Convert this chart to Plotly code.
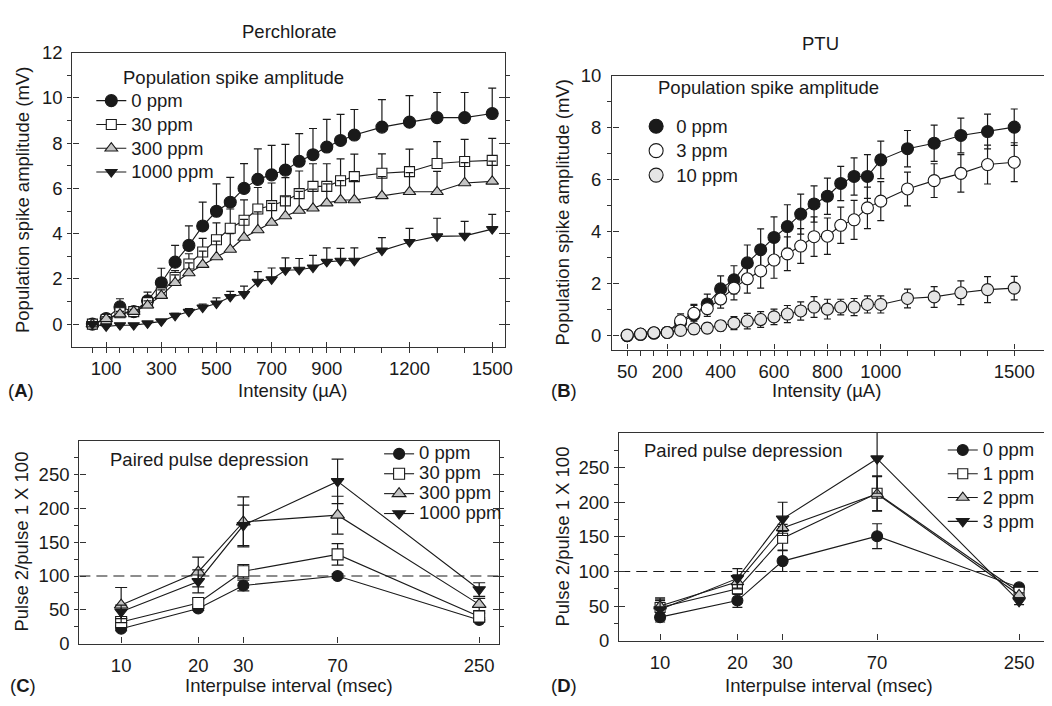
import plotly.graph_objects as go

# ---------------- data ----------------
intensity = [50, 100, 150, 200, 250, 300, 350, 400, 450, 500, 550, 600, 650, 700,
             750, 800, 850, 900, 950, 1000, 1100, 1200, 1300, 1400, 1500]

# Panel A: Perchlorate, population spike amplitude (mV)
perc_0 = [0.0, 0.25, 0.76, 0.55, 1.03, 1.83, 2.74, 3.48, 4.34, 4.99, 5.39, 6.00, 6.40,
          6.60, 6.81, 7.20, 7.49, 7.83, 8.12, 8.36, 8.71, 8.93, 9.13, 9.13, 9.31]
perc_0_err = [0.05, 0.10, 0.36, 0.20, 0.38, 0.64, 0.74, 0.86, 1.05, 1.21, 1.10, 1.10, 1.35,
              1.30, 1.14, 1.22, 1.16, 1.22, 1.15, 1.13, 1.22, 1.17, 1.11, 1.11, 1.12]
perc_30 = [0.0, 0.20, 0.50, 0.55, 0.95, 1.38, 2.06, 2.66, 3.19, 3.73, 4.24, 4.59, 5.09,
           5.24, 5.45, 5.77, 6.09, 6.09, 6.34, 6.52, 6.67, 6.74, 7.10, 7.19, 7.24]
perc_30_err = [0.05, 0.08, 0.10, 0.10, 0.15, 0.20, 0.30, 0.45, 0.60, 0.75, 0.85, 0.90, 0.95,
               1.00, 1.03, 1.00, 1.00, 1.00, 0.97, 1.00, 0.86, 1.00, 0.97, 0.98, 0.97]
perc_300 = [0.0, 0.23, 0.44, 0.55, 0.83, 1.26, 1.83, 2.26, 2.63, 2.97, 3.30, 3.83, 4.16,
            4.49, 4.78, 5.02, 5.12, 5.35, 5.49, 5.49, 5.67, 5.85, 5.85, 6.24, 6.31]
perc_300_err = [0.05, 0.10, 0.12, 0.10, 0.20, 0.25, 0.35, 0.45, 0.60, 0.70, 0.70, 0.80, 0.80,
                0.85, 0.85, 0.85, 0.85, 0.85, 0.85, 0.85, 0.85, 0.85, 0.90, 0.90, 0.90]
perc_1000 = [0.0, -0.10, -0.05, -0.05, 0.03, 0.12, 0.37, 0.54, 0.73, 0.91, 1.20, 1.33, 1.87,
             1.98, 2.38, 2.40, 2.50, 2.75, 2.80, 2.80, 3.25, 3.63, 3.88, 3.90, 4.20]
perc_1000_err = [0.0, 0.0, 0.0, 0.0, 0.05, 0.05, 0.10, 0.15, 0.15, 0.25, 0.25, 0.35, 0.45,
                 0.50, 0.55, 0.50, 0.54, 0.62, 0.55, 0.57, 0.57, 0.60, 0.80, 0.64, 0.65]

# Panel B: PTU, population spike amplitude (mV)
ptu_0 = [0.0, 0.05, 0.10, 0.12, 0.50, 0.80, 1.22, 1.80, 2.15, 2.80, 3.31, 3.78, 4.20,
         4.68, 5.07, 5.37, 5.86, 6.13, 6.13, 6.77, 7.20, 7.41, 7.71, 7.86, 8.03]
ptu_0_err = [0.0, 0.0, 0.0, 0.05, 0.20, 0.40, 0.38, 0.50, 0.54, 0.69, 0.80, 0.79, 0.84,
             0.77, 0.70, 0.70, 0.66, 0.72, 0.84, 0.72, 0.70, 0.70, 0.67, 0.67, 0.70]
ptu_3 = [0.0, 0.05, 0.10, 0.12, 0.57, 0.86, 1.04, 1.41, 1.83, 2.19, 2.49, 2.91, 3.15,
         3.45, 3.81, 3.83, 4.25, 4.46, 4.92, 5.18, 5.65, 5.97, 6.25, 6.59, 6.68]
ptu_3_err = [0.0, 0.0, 0.0, 0.05, 0.27, 0.30, 0.30, 0.35, 0.45, 0.55, 0.66, 0.70, 0.65,
             0.67, 0.76, 0.70, 0.70, 0.75, 0.80, 0.75, 0.65, 0.65, 0.72, 0.75, 0.75]
ptu_10 = [0.02, 0.06, 0.11, 0.12, 0.20, 0.26, 0.29, 0.38, 0.48, 0.56, 0.62, 0.72, 0.83,
          0.95, 1.10, 1.02, 1.10, 1.10, 1.20, 1.20, 1.43, 1.49, 1.65, 1.77, 1.83]
ptu_10_err = [0.0, 0.0, 0.0, 0.0, 0.05, 0.20, 0.20, 0.20, 0.25, 0.30, 0.30, 0.30, 0.33,
              0.35, 0.40, 0.38, 0.30, 0.33, 0.33, 0.33, 0.36, 0.40, 0.46, 0.50, 0.45]

# Panels C/D: paired pulse depression (pulse 2 / pulse 1 x 100)
interval = [10, 20, 30, 70, 250]
ppd_perc_0 = [22, 52, 86, 100, 35]
ppd_perc_0_err = [3, 3, 8, 3, 3]
ppd_perc_30 = [32, 60, 107, 132, 40]
ppd_perc_30_err = [5, 6, 10, 16, 5]
ppd_perc_300 = [57, 106, 180, 190, 58]
ppd_perc_300_err = [26, 22, 37, 28, 9]
ppd_perc_1000 = [47, 92, 175, 240, 80]
ppd_perc_1000_err = [10, 17, 30, 33, 10]

ppd_ptu_0 = [34, 58, 115, 151, 77]
ppd_ptu_0_err = [7, 10, 15, 18, 3]
ppd_ptu_1 = [48, 75, 148, 213, 70]
ppd_ptu_1_err = [10, 8, 17, 25, 3]
ppd_ptu_2 = [50, 85, 163, 212, 66]
ppd_ptu_2_err = [12, 10, 5, 25, 3]
ppd_ptu_3 = [45, 90, 176, 263, 57]
ppd_ptu_3_err = [15, 14, 24, 50, 5]

a_ticks = [100, 300, 500, 700, 900, 1200, 1500]
b_ticks = [50, 200, 400, 600, 800, 1000, 1500]
interval_ticks = [10, 20, 30, 70, 250]

# ---------------- figure ----------------
W, H = 1052, 706
FONT = "Liberation Sans, Arial, Helvetica, sans-serif"
FS = 18.5
INK = "#1a1a1a"
AX = "#333333"


def fx(p):
    return p / W


def fy(p):
    return 1 - p / H


def lab(s):
    return f'<span style="font-size:{FS}px">{s}</span>'


fig = go.Figure()


def add_series(x, y, err, name, symbol, fill, size, xa, ya, legend, one_sided,
               capw, showlegend=True):
    ey = dict(type="data", array=err, color=INK, thickness=1.2, width=capw)
    if one_sided:
        ey["symmetric"] = False
        ey["arrayminus"] = [0] * len(err)
    fig.add_trace(go.Scatter(
        x=x, y=y, name=lab(name), mode="lines+markers",
        line=dict(color=INK, width=1.1),
        marker=dict(symbol=symbol, size=size, color=fill,
                    line=dict(color=INK, width=1.1)),
        error_y=ey, xaxis=xa, yaxis=ya, legend=legend, showlegend=showlegend,
    ))


GREY = "#c4c4c4"
LIGHT = "#e6e6e6"

# Panel A
add_series(intensity, perc_0, perc_0_err, "0 ppm", "circle", INK, 12, "x", "y", "legend", True, 4)
add_series(intensity, perc_30, perc_30_err, "30 ppm", "square", "white", 10, "x", "y", "legend", True, 4)
add_series(intensity, perc_300, perc_300_err, "300 ppm", "triangle-up", GREY, 11, "x", "y", "legend", True, 4)
add_series(intensity, perc_1000, perc_1000_err, "1000 ppm", "triangle-down", INK, 10, "x", "y", "legend", True, 4)

# Panel B (legend shows markers only)
add_series(intensity, ptu_0, ptu_0_err, "0 ppm", "circle", INK, 12, "x2", "y2", "legend2", False, 3.5, False)
add_series(intensity, ptu_3, ptu_3_err, "3 ppm", "circle", "white", 12, "x2", "y2", "legend2", False, 3.5, False)
add_series(intensity, ptu_10, ptu_10_err, "10 ppm", "circle", LIGHT, 12, "x2", "y2", "legend2", False, 3.5, False)
for nm, fill in [("0 ppm", INK), ("3 ppm", "white"), ("10 ppm", LIGHT)]:
    fig.add_trace(go.Scatter(
        x=[None], y=[None], name=lab(nm), mode="markers",
        marker=dict(symbol="circle", size=14, color=fill, line=dict(color=INK, width=1.1)),
        xaxis="x2", yaxis="y2", legend="legend2", showlegend=True))

# Panel C
add_series(interval, ppd_perc_0, ppd_perc_0_err, "0 ppm", "circle", INK, 11, "x3", "y3", "legend3", False, 6)
add_series(interval, ppd_perc_30, ppd_perc_30_err, "30 ppm", "square", "white", 11, "x3", "y3", "legend3", False, 6)
add_series(interval, ppd_perc_300, ppd_perc_300_err, "300 ppm", "triangle-up", GREY, 12, "x3", "y3", "legend3", False, 6)
add_series(interval, ppd_perc_1000, ppd_perc_1000_err, "1000 ppm", "triangle-down", INK, 11, "x3", "y3", "legend3", False, 6)

# Panel D
add_series(interval, ppd_ptu_0, ppd_ptu_0_err, "0 ppm", "circle", INK, 11, "x4", "y4", "legend4", False, 5)
add_series(interval, ppd_ptu_1, ppd_ptu_1_err, "1 ppm", "square", "white", 10, "x4", "y4", "legend4", False, 5)
add_series(interval, ppd_ptu_2, ppd_ptu_2_err, "2 ppm", "triangle-up", GREY, 11, "x4", "y4", "legend4", False, 5)
add_series(interval, ppd_ptu_3, ppd_ptu_3_err, "3 ppm", "triangle-down", INK, 11, "x4", "y4", "legend4", False, 5)

# reference line at 100 in C and D
for xr, yr in [("x3", "y3"), ("x4", "y4")]:
    fig.add_shape(type="line", xref=f"{xr} domain", yref=yr, x0=0, x1=1, y0=100, y1=100,
                  line=dict(color=INK, width=1.1, dash="11px,6px"), layer="below")

base = dict(showline=True, linecolor=AX, linewidth=1.4, ticks="inside", tickcolor=AX,
            tickwidth=1.2, showgrid=False, zeroline=False,
            tickfont=dict(size=FS, color=INK, family=FONT))

layout = dict(
    width=W, height=H, margin=dict(l=0, r=0, t=0, b=0),
    paper_bgcolor="white", plot_bgcolor="white",
    font=dict(family=FONT, size=FS, color=INK),
)

# A axes
layout["xaxis"] = dict(base, domain=[fx(73), fx(509)], range=[-22.3, 1546.8], anchor="y",
                       tickmode="array", tickvals=a_ticks, ticklen=5, mirror=True,
                       minor=dict(tickmode="array", tickvals=intensity, ticklen=5, tickcolor=AX),
                       ticklabelstandoff=5)
layout["yaxis"] = dict(base, domain=[fy(346), fy(43)], range=[-1, 12], anchor="x",
                       tickmode="array", tickvals=[0, 2, 4, 6, 8, 10, 12], ticklen=6,
                       mirror="ticks", minor=dict(dtick=1, tick0=0, ticklen=4, tickcolor=AX),
                       ticklabelstandoff=5)
# B axes
layout["xaxis2"] = dict(base, domain=[fx(617), 1.0], range=[-5.8, 1611.5], anchor="y2",
                        tickmode="array", tickvals=b_ticks, ticklen=5, mirror=True,
                        minor=dict(tickmode="array", tickvals=intensity, ticklen=5, tickcolor=AX),
                        ticklabelstandoff=5)
layout["yaxis2"] = dict(base, domain=[fy(349), fy(67)], range=[-0.54, 10], anchor="x2",
                        tickmode="array", tickvals=[0, 2, 4, 6, 8, 10], ticklen=6,
                        minor=dict(dtick=1, tick0=0, ticklen=4, tickcolor=AX),
                        ticklabelstandoff=6)
# C axes
layout["xaxis3"] = dict(base, type="log", domain=[fx(80), fx(503)], range=[0.837, 2.476],
                        anchor="y3", tickmode="array", tickvals=interval_ticks,
                        ticktext=[str(v) for v in interval_ticks], ticklen=6, mirror=True,
                        ticklabelstandoff=5)
layout["yaxis3"] = dict(base, domain=[fy(652), fy(443)], range=[0, 300], anchor="x3",
                        tickmode="array", tickvals=[0, 50, 100, 150, 200, 250], ticklen=6,
                        mirror="ticks", minor=dict(dtick=25, tick0=0, ticklen=4, tickcolor=AX),
                        ticklabelstandoff=5)
# D axes
layout["xaxis4"] = dict(base, type="log", domain=[fx(624), 1.0], range=[0.841, 2.495],
                        anchor="y4", tickmode="array", tickvals=interval_ticks,
                        ticktext=[str(v) for v in interval_ticks], ticklen=6, mirror=True,
                        ticklabelstandoff=5)
layout["yaxis4"] = dict(base, domain=[fy(649), fy(435)], range=[0, 300], anchor="x4",
                        tickmode="array", tickvals=[0, 50, 100, 150, 200, 250], ticklen=6,
                        minor=dict(dtick=25, tick0=0, ticklen=4, tickcolor=AX),
                        ticklabelstandoff=5)

leg = dict(xanchor="left", yanchor="top", bgcolor="rgba(0,0,0,0)", borderwidth=0,
           tracegroupgap=0)
# legend font sizes set the row pitch; visible text size comes from the span
layout["legend"] = dict(leg, x=fx(92), y=fy(75), font=dict(size=16, color=INK, family=FONT))
layout["legend2"] = dict(leg, x=fx(641), y=fy(101), font=dict(size=16.5, color=INK, family=FONT))
layout["legend3"] = dict(leg, x=fx(382), y=fy(441), font=dict(size=13, color=INK, family=FONT))
layout["legend4"] = dict(leg, x=fx(950), y=fy(435), font=dict(size=16, color=INK, family=FONT))

fig.update_layout(**layout)

ann = []


def txt(x, y, s, anchor="center", angle=0):
    ann.append(dict(x=fx(x), y=fy(y), xref="paper", yref="paper", text=s, showarrow=False,
                    xanchor=anchor, yanchor="middle", textangle=angle,
                    font=dict(size=FS, color=INK, family=FONT)))


txt(292, 21, "Perchlorate")
txt(827, 33, "PTU")
txt(122, 69, "Population spike amplitude", "left")
txt(661, 79, "Population spike amplitude", "left")
txt(109, 462, "Paired pulse depression", "left")
txt(647, 453, "Paired pulse depression", "left")
# axis titles
txt(295, 391, "Intensity (\u00b5A)")
txt(833, 391, "Intensity (\u00b5A)")
txt(291, 695, "Interpulse interval (msec)")
txt(835, 695, "Interpulse interval (msec)")
txt(22, 195, "Population spike amplitude (mV)", angle=-90)
txt(567, 208, "Population spike amplitude (mV)", angle=-90)
txt(22, 547, "Pulse 2/pulse 1 X 100", angle=-90)
txt(567, 542, "Pulse 2/pulse 1 X 100", angle=-90)
# panel letters
txt(6, 391, "(<b>A</b>)", "left")
txt(553, 391, "(<b>B</b>)", "left")
txt(8, 695, "(<b>C</b>)", "left")
txt(553, 695, "(<b>D</b>)", "left")
fig.update_layout(annotations=ann)

fig.write_html("out.html")
